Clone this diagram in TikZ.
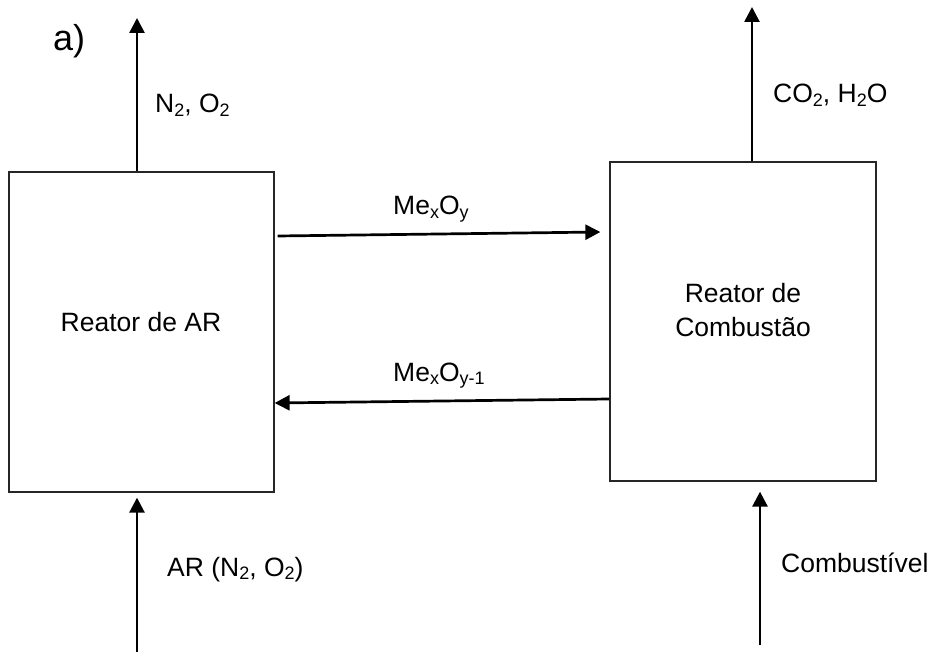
\documentclass[tikz,border=0pt]{standalone}
\usepackage{fontspec}
\setmainfont{Liberation Sans}
\usetikzlibrary{arrows.meta,calc}
\newcommand{\sbs}[1]{\raisebox{-3.5pt}{\fontsize{18}{18}\selectfont #1}}
\begin{document}
\begin{tikzpicture}[x=1pt,y=-1pt,
  box/.style={draw=black!85, line width=1.3pt, fill=none, inner sep=0pt},
  flow/.style={draw=black, line width=2.7pt, -{Triangle[length=15pt,width=15pt]}},
  lbl/.style={inner sep=0pt, anchor=base west, font=\fontsize{26.5}{33}\selectfont},
  ctr/.style={inner sep=0pt, anchor=base, font=\fontsize{26.5}{33}\selectfont, align=center}]
\useasboundingbox[fill=white] (0,0) rectangle (929,652);

% boxes
\node[box, minimum width=265pt, minimum height=320pt] (ar) at (141.5,332) {};
\node[box, minimum width=266pt, minimum height=319pt] (comb) at (743,321.5) {};

% box texts
\node[ctr] (artxt) at (141,331) {Reator de AR};
\node[ctr] (combtxt1) at (743,303) {Reator de};
\node[ctr] (combtxt2) at (743,336) {Combustão};

% label a)
\node[inner sep=0pt, anchor=base west, font=\fontsize{36}{36}\selectfont] (lab) at (53,51) {a)};

% free ends
\coordinate (artop) at (137,18);
\coordinate (combtop) at (752,7);
\coordinate (arin) at (137,652);
\coordinate (combin) at (760,645);

% vertical arrows
\draw[flow] (ar.north -| artop) -- (artop);
\draw[flow] (comb.north -| combtop) -- (combtop);
\draw[flow, shorten >=5pt] (arin) -- (arin |- ar.south);
\draw[flow, shorten >=10pt] (combin) -- (combin |- comb.south);

% horizontal arrows
\draw[flow] ($(ar.east |- 0,236)+(3,0)$) -- ($(comb.west |- 0,232)+(-9,0)$);
\draw[flow] (comb.west |- 0,399) -- (ar.east |- 0,403);

% stream labels
\node[lbl] (n2o2) at (155,113) {N\sbs{2}, O\sbs{2}};
\node[lbl] (co2) at (773,103) {CO\sbs{2}, H\sbs{2}O};
\node[lbl] (mexoy) at (393,215) {Me\sbs{x}O\sbs{y}};
\node[lbl] (mexoy1) at (393,381) {Me\sbs{x}O\sbs{y-1}};
\node[lbl] (air) at (167,576) {AR (N\sbs{2}, O\sbs{2})};
\node[lbl] (fuel) at (781,572) {Combustível};
\end{tikzpicture}
\end{document}
